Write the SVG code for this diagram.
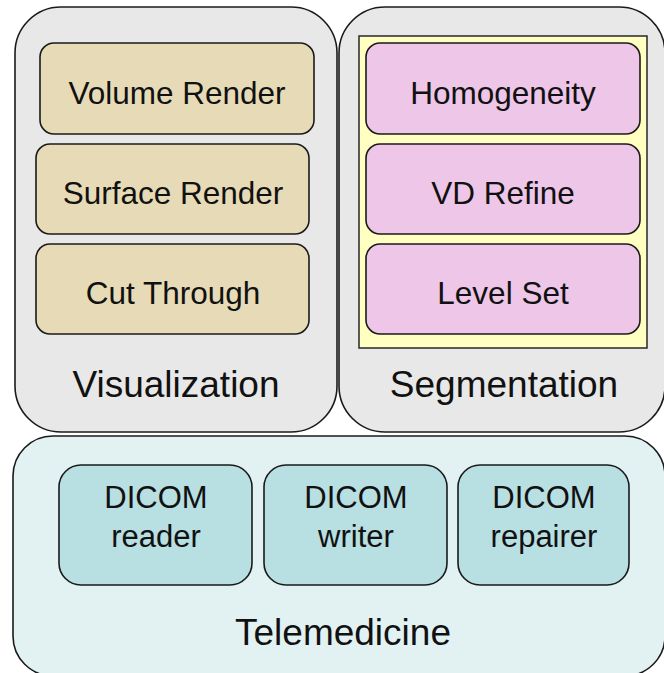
<svg xmlns="http://www.w3.org/2000/svg" width="664" height="673" viewBox="0 0 664 673">
<style>
.grp{fill:#e8e8e8;stroke:#1a1a1a;stroke-width:1.6}
.tel{fill:#e2f2f3;stroke:#1a1a1a;stroke-width:1.6}
.tan{fill:#e6dbb6;stroke:#1a1a1a;stroke-width:1.6}
.pink{fill:#edc6e8;stroke:#1a1a1a;stroke-width:1.6}
.teal{fill:#b8dfe2;stroke:#1a1a1a;stroke-width:1.6}
.yel{fill:#ffffc2;stroke:#333;stroke-width:1.6}
text{font-family:"Liberation Sans",Arial,sans-serif;fill:#111;text-anchor:middle}
.big{font-size:37px}
.mid{font-size:31.5px}
.dic{font-size:31px}
</style>
<g id="telemedicine">
<rect class="tel" x="13" y="436" width="652" height="240" rx="40"/>
<text class="big" x="343" y="645">Telemedicine</text>
</g>
<g id="visualization">
<rect class="grp" x="15" y="7" width="322" height="425" rx="46"/>
<text class="big" x="176" y="397">Visualization</text>
</g>
<g id="segmentation">
<rect class="grp" x="339" y="7" width="326" height="425" rx="46"/>
<rect class="yel" x="359" y="36" width="288" height="312"/>
<text class="big" x="504" y="397">Segmentation</text>
</g>
<g id="volume-render">
<rect class="tan" x="40" y="43" width="274" height="91" rx="14"/>
<text class="mid" x="177" y="104">Volume Render</text>
</g>
<g id="surface-render">
<rect class="tan" x="36" y="144" width="273" height="90" rx="14"/>
<text class="mid" x="173" y="204">Surface Render</text>
</g>
<g id="cut-through">
<rect class="tan" x="36" y="244" width="273" height="90" rx="14"/>
<text class="mid" x="173" y="304">Cut Through</text>
</g>
<g id="homogeneity">
<rect class="pink" x="366" y="43" width="274" height="91" rx="14"/>
<text class="mid" x="503" y="104">Homogeneity</text>
</g>
<g id="vd-refine">
<rect class="pink" x="366" y="144" width="274" height="90" rx="14"/>
<text class="mid" x="503" y="204">VD Refine</text>
</g>
<g id="level-set">
<rect class="pink" x="366" y="244" width="274" height="90" rx="14"/>
<text class="mid" x="503" y="304">Level Set</text>
</g>
<g id="dicom-reader">
<rect class="teal" x="59" y="465" width="193" height="120" rx="22"/>
<text class="dic" x="156" y="508">DICOM</text>
<text class="dic" x="156" y="547">reader</text>
</g>
<g id="dicom-writer">
<rect class="teal" x="264" y="465" width="183" height="120" rx="22"/>
<text class="dic" x="356" y="508">DICOM</text>
<text class="dic" x="356" y="547">writer</text>
</g>
<g id="dicom-repairer">
<rect class="teal" x="458" y="465" width="171" height="120" rx="22"/>
<text class="dic" x="544" y="508">DICOM</text>
<text class="dic" x="544" y="547">repairer</text>
</g>
<g id="connectors"/>
</svg>
